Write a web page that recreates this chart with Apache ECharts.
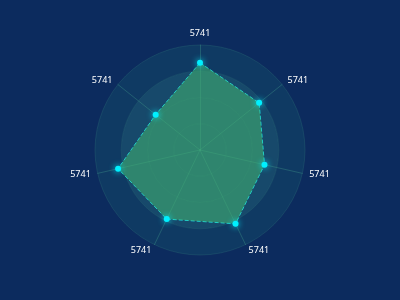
<!DOCTYPE html>
<html>
<head>
<meta charset="utf-8">
<script src="https://cdn.jsdelivr.net/npm/echarts@6/dist/echarts.min.js"></script>
<style>
  html, body { margin: 0; padding: 0; background: #0c2b5e; }
  #chart { width: 400px; height: 300px; }
</style>
</head>
<body>
<div id="chart"></div>
<script>
// Indicator names (counter-clockwise from the top)
var indicatorNames = ['5741', '5741', '5741', '5741', '5741', '5741', '5741'];
var indicatorMax = [100, 100, 100, 100, 100, 100, 100];
// Series values in the same order as the indicators
var seriesValues = [83, 54, 80, 73, 78, 63, 72];

var chart = echarts.init(document.getElementById('chart'));
chart.setOption({
  backgroundColor: '#0c2b5e',
  radar: {
    center: ['50%', '50%'],
    radius: 105,
    startAngle: 90,
    shape: 'circle',
    splitNumber: 4,
    indicator: indicatorNames.map(function (n, i) { return { name: n, max: indicatorMax[i] }; }),
    axisName: { color: '#ffffff', fontSize: 9, fontFamily: 'Noto Sans' },
    nameGap: 7,
    axisLine: { lineStyle: { color: 'rgba(70,160,140,0.35)', width: 1 } },
    splitLine: { lineStyle: { color: 'rgba(70,160,140,0.18)', width: 1 } },
    splitArea: {
      show: true,
      areaStyle: { color: ['#17496b', '#17496b', '#17496b', '#0f3a63'] }
    }
  },
  series: [{
    type: 'radar',
    symbol: 'circle',
    symbolSize: 6,
    itemStyle: { color: '#00f0ff', shadowColor: '#00f0ff', shadowBlur: 6 },
    lineStyle: { color: '#19d8e0', type: 'dashed', width: 1 },
    areaStyle: { color: 'rgba(66,180,112,0.8)' },
    data: [{ value: seriesValues }]
  }]
});
</script>
</body>
</html>
